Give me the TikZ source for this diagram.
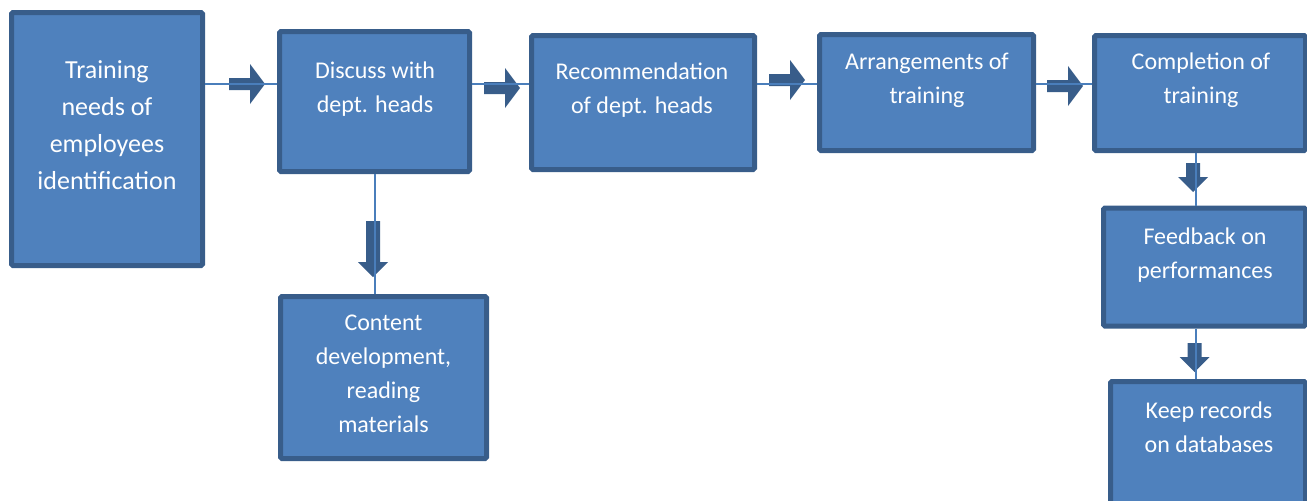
\documentclass[tikz,border=0pt]{standalone}
\usepackage{fontspec}
\setmainfont{Carlito}
\definecolor{boxfill}{RGB}{79,129,189}
\definecolor{boxedge}{RGB}{56,93,138}
\definecolor{linkcol}{RGB}{74,126,187}
\tikzset{every picture/.style={line width=0.75pt}}
\tikzset{
  box/.style={draw=boxedge, fill=boxfill, line width=3.75pt, rounded corners=1pt, inner sep=0pt},
  lbl/.style={text=white, align=center, font=\fontsize{18}{25.5}\selectfont},
  biglbl/.style={text=white, align=center, font=\fontsize{19.5}{27.75}\selectfont},
  link/.style={draw=linkcol, line width=1.5pt},
  pics/rblock/.style={code={\fill[boxedge] (-36,-6) -- (-15,-6) -- (-15,-20) -- (0,0) -- (-15,20) -- (-15,6) -- (-36,6) -- cycle;}},
  pics/dblock/.style={code={\fill[boxedge] (-7,15+#1) -- (-7,15) -- (-15,15) -- (0,0) -- (15,15) -- (7,15) -- (7,15+#1) -- cycle;}}
}

\begin{document}
\begin{tikzpicture}[x=0.75pt,y=0.75pt,yscale=-1,xscale=1]
\useasboundingbox (0,0) rectangle (1307,500);

% Boxes
\node[box, minimum width=143.25pt, minimum height=189.75pt] (train) at (107,139) {};
\node[box, minimum width=142.5pt, minimum height=105pt] (disc) at (374.5,101.5) {};
\node[box, minimum width=167.25pt, minimum height=100.5pt] (reco) at (643,102.5) {};
\node[box, minimum width=160.5pt, minimum height=87pt] (arr) at (926.5,92.5) {};
\node[box, minimum width=158.25pt, minimum height=86.25pt] (comp) at (1200,93) {};
\node[box, minimum width=151.5pt, minimum height=88.5pt] (feed) at (1204.5,267) {};
\node[box, minimum width=146.25pt, minimum height=92.25pt] (keep) at (1208,443) {};
\node[box, minimum width=154.5pt, minimum height=121.5pt] (cont) at (383.5,377.5) {};

% Texts
\node[biglbl] (train-t) at (107,125) {Training\\needs of\\employees\\identification};
\node[lbl] (disc-t) at (375,89) {Discuss with\\dept. heads};
\node[lbl] (reco-t) at (642,90) {Recommendation\\of dept. heads};
\node[lbl] (arr-t) at (927,80) {Arrangements of\\training};
\node[lbl] (comp-t) at (1201,80) {Completion of\\training};
\node[lbl] (feed-t) at (1205,255) {Feedback on\\performances};
\node[lbl] (keep-t) at (1209,427) {Keep records\\on databases};
\node[lbl] (cont-t) at (383.5,373.5) {Content\\development,\\reading\\materials};

% Block arrows
\pic at (265,84) {rblock};
\pic at (520,88) {rblock};
\pic at (805,80) {rblock};
\pic at (1083,86) {rblock};
\pic at (373,277) {dblock=41};
\pic at (1193,192) {dblock=14};
\pic at (1194.5,372) {dblock=14};

% Connections
\coordinate (row) at (0,84);
\coordinate (col) at (1196,0);
\draw[link] (train.east |- row) -- (disc.west |- row);
\draw[link] (disc.east |- row) -- (reco.west |- row);
\draw[link] (reco.east |- row) -- (arr.west |- row);
\draw[link] (arr.east |- row) -- (comp.west |- row);
\draw[link] (disc.south) -- (disc.south |- cont.north);
\draw[link] (comp.south -| col) -- (feed.north -| col);
\draw[link] (feed.south -| col) -- (keep.north -| col);

\end{tikzpicture}
\end{document}
